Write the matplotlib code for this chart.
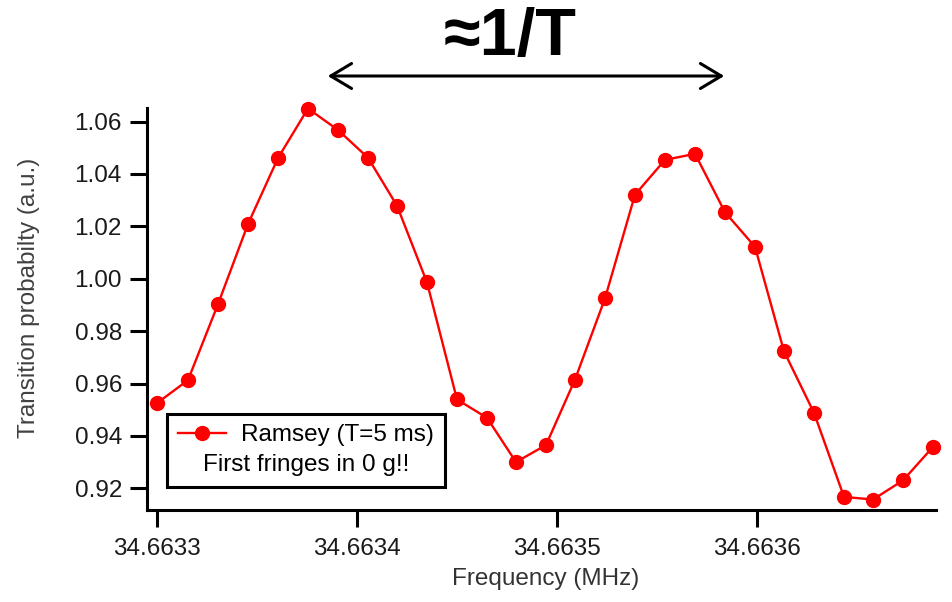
import matplotlib
matplotlib.use("Agg")
import matplotlib.pyplot as plt

plt.rcParams["font.family"] = ["Liberation Sans", "DejaVu Sans"]

# Ramsey scan, T = 5 ms
freq_mhz = [
    34.6633000, 34.6633155, 34.6633305, 34.6633455, 34.6633605, 34.6633755,
    34.6633905, 34.6634055, 34.6634200, 34.6634350, 34.6634500, 34.6634650,
    34.6634795, 34.6634945, 34.6635090, 34.6635240, 34.6635390, 34.6635540,
    34.6635690, 34.6635840, 34.6635990, 34.6636135, 34.6636285, 34.6636435,
    34.6636580, 34.6636730, 34.6636880,
]
prob = [
    0.9525, 0.9613, 0.9903, 1.0209, 1.0461, 1.0650,
    1.0568, 1.0462, 1.0279, 0.9986, 0.9539, 0.9469,
    0.9300, 0.9365, 0.9615, 0.9925, 1.0321, 1.0454,
    1.0477, 1.0254, 1.0122, 0.9723, 0.9488, 0.9167,
    0.9157, 0.9230, 0.9358,
]

x_ticks = [34.6633, 34.6634, 34.6635, 34.6636]
x_tick_labels = ["34.6633", "34.6634", "34.6635", "34.6636"]
y_ticks = [0.92, 0.94, 0.96, 0.98, 1.00, 1.02, 1.04, 1.06]
y_tick_labels = ["%.2f" % v for v in y_ticks]

fig = plt.figure(figsize=(9.52, 6.02), dpi=100)
ax = fig.add_axes([147 / 952, 92 / 602, 789 / 952, 402 / 602])

ax.plot(freq_mhz, prob, "o-", color="#ff0000", lw=1.7, ms=10,
        label="Ramsey (T=5 ms)", clip_on=False, zorder=3)

ax.set_xlim(34.663295, 34.6636895)
ax.set_ylim(0.9117, 1.0652)
ax.set_xticks(x_ticks)
ax.set_xticklabels(x_tick_labels)
ax.set_yticks(y_ticks)
ax.set_yticklabels(y_tick_labels)

for side in ["top", "right"]:
    ax.spines[side].set_visible(False)
for side in ["left", "bottom"]:
    ax.spines[side].set_linewidth(2.2)

ax.tick_params(axis="both", direction="out", length=12, width=2.2,
               labelsize=17.5, labelcolor="#1a1a1a")
ax.tick_params(axis="y", pad=6)
ax.tick_params(axis="x", pad=8)

ax.set_xlabel("Frequency (MHz)", fontsize=17.5, color="#333333")
ax.set_ylabel("Transition probabilty (a.u.)", fontsize=17.5, color="#404040")
ax.xaxis.set_label_coords(0.5057, -0.145)
ax.yaxis.set_label_coords(-0.135, 0.527)

leg = ax.legend(loc="lower left", bbox_to_anchor=(0.025, 0.058),
                borderaxespad=0, fontsize=17.5, title="First fringes in 0 g!!",
                title_fontsize=17.5, fancybox=False, framealpha=1,
                edgecolor="black", handlelength=2.0, handletextpad=0.6,
                borderpad=0.45, labelspacing=0.3)
leg.get_frame().set_linewidth(2.2)
# put the note line under the entry
leg._legend_box._children.reverse()

fig.text(510 / 952, 1 - 38 / 602, "≈1/T", fontsize=48, fontweight="bold",
         ha="center", va="center")
fig.add_artist(matplotlib.patches.FancyArrowPatch(
    (325 / 952, 1 - 76 / 602), (727 / 952, 1 - 76 / 602),
    transform=fig.transFigure, arrowstyle="<->,head_length=0.75,head_width=0.45",
    mutation_scale=20, lw=2.2, color="black"))

fig.savefig("out.png", dpi=100)
